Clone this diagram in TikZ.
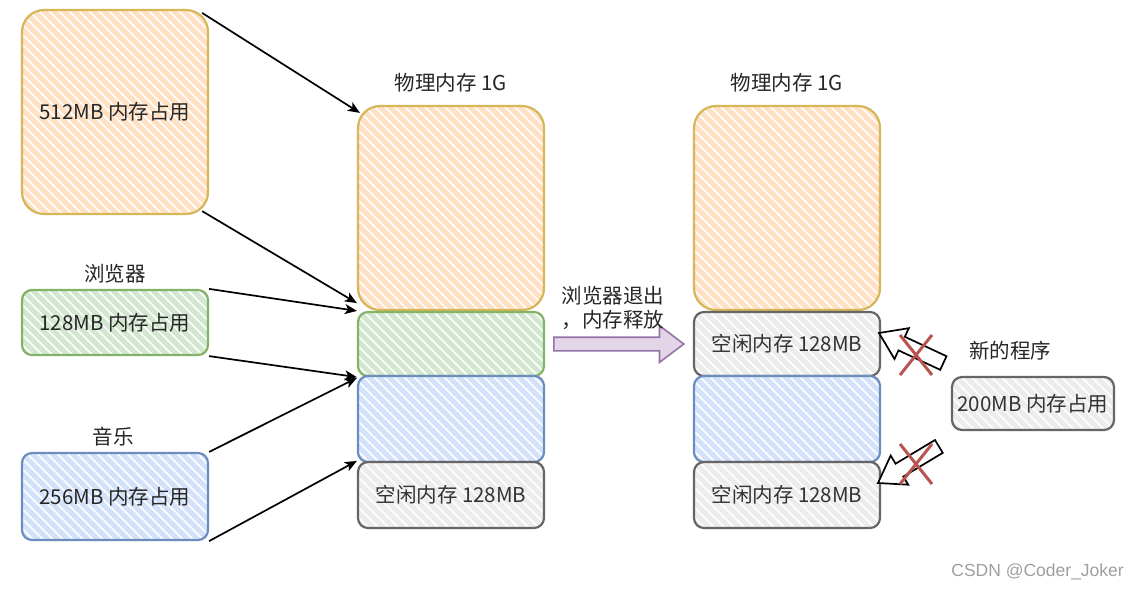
\documentclass[tikz,border=0pt]{standalone}
\usepackage{fontspec}
\setmainfont{Noto Sans CJK SC}
\newfontfamily\wmfont{Liberation Sans}
\usetikzlibrary{calc,arrows.meta,shapes.arrows}
\definecolor{orS}{HTML}{D6B656}\definecolor{orF}{HTML}{FFE0C2}
\definecolor{grS}{HTML}{82B366}\definecolor{grF}{HTML}{D2E6D0}
\definecolor{blS}{HTML}{6C8EBF}\definecolor{blF}{HTML}{D3E2FA}
\definecolor{gyS}{HTML}{666666}\definecolor{gyF}{HTML}{ECECEC}
\definecolor{puS}{HTML}{9673A6}\definecolor{puF}{HTML}{E1D5E7}
\definecolor{xred}{HTML}{B85450}
\tikzset{
  memfont/.style={font=\fontsize{20.5}{24}\selectfont, text=black!85},
  membox/.style 2 args={draw=#1, line width=2.2pt, rounded corners=10pt, inner sep=0pt, memfont,
    path picture={\foreach \k in {-500,-490,...,500}{\draw[#2, line width=5pt] ($(path picture bounding box.center)+(\k,0)$) ++(-300,-300) -- ++(600,600);}}},
  big/.style={minimum width=186pt, minimum height=204pt, rounded corners=22pt},
  lbl/.style={memfont, inner sep=0pt},
  conn/.style={draw=black, line width=1.7pt, -{Stealth[length=12pt,width=10pt,inset=3pt]}},
  hollow/.style={draw=black, line width=1.7pt, fill=white, line join=miter},
  xmark/.style={draw=xred, line width=3pt},
}
\begin{document}
\begin{tikzpicture}[x=1pt,y=-1pt]
\useasboundingbox[fill=white] (0,0) rectangle (1142,590);
% left column
\node[membox={orS}{orF}, big] (L1) at (115,112) {512MB 内存占用};
\node[membox={grS}{grF}, minimum width=186pt, minimum height=65pt] (L2) at (115,322.5) {128MB 内存占用};
\node[membox={blS}{blF}, minimum width=186pt, minimum height=87pt] (L3) at (115,496.5) {256MB 内存占用};
\node[lbl] (t2) at (115,274) {浏览器};
\node[lbl] (t3) at (113,437) {音乐};
% middle column
\node[lbl] (tm) at (451,83) {物理内存 1G};
\node[membox={orS}{orF}, big] (M1) at (451,208) {};
\node[membox={grS}{grF}, minimum width=186pt, minimum height=64pt] (M2) at (451,344) {};
\node[membox={blS}{blF}, minimum width=186pt, minimum height=86pt] (M3) at (451,419) {};
\node[membox={gyS}{gyF}, minimum width=186pt, minimum height=66pt, text=black!80] (M4) at (451,495) {空闲内存 128MB};
% right column
\node[lbl] (tr) at (787,83) {物理内存 1G};
\node[membox={orS}{orF}, big] (R1) at (787,208) {};
\node[membox={gyS}{gyF}, minimum width=186pt, minimum height=64pt, text=black!80] (R2) at (787,344) {空闲内存 128MB};
\node[membox={blS}{blF}, minimum width=186pt, minimum height=86pt] (R3) at (787,419) {};
\node[membox={gyS}{gyF}, minimum width=186pt, minimum height=66pt, text=black!80] (R4) at (787,495) {空闲内存 128MB};
% new program
\node[lbl] (tn) at (1010,351) {新的程序};
\node[membox={gyS}{gyF}, minimum width=162pt, minimum height=53pt, text=black!80] (N) at (1033,403.5) {200MB 内存占用};
% connectors
\draw[conn] ($(L1.north east)+(-7,4)$) -- ($(M1.north west)+(3,8)$);
\draw[conn] ($(L1.south east)+(-7,-4)$) -- ($(M1.south west)+(0,-8)$);
\draw[conn] (L2.north east) -- (M2.north west);
\draw[conn] (L2.south east) -- (M2.south west);
\draw[conn] (L3.north east) -- ($(M3.north west)+(0,3)$);
\draw[conn] (L3.south east) -- (M4.north west);
% big arrow
\node[single arrow, draw=puS, fill=puF, line width=1.6pt, anchor=tail, minimum height=130pt,
  inner sep=6pt, single arrow head extend=11.5pt, single arrow tip angle=74] (ba) at (553,344) {};
\node[memfont, align=left, inner sep=0pt] (bal) at (613,308) {浏览器退出\\，内存释放};
% hollow arrows (tip at the coordinate, pointing back to the free memory)
\coordinate (p1) at (879,333);
\coordinate (p2) at (878,483);
\begin{scope}[shift={(p1)}, rotate=-25]
  \path[hollow] (0,0) -- (25,-17) -- (25,-7.5) -- (71,-7.5) -- (71,7.5) -- (25,7.5) -- (25,17) -- cycle;
\end{scope}
\begin{scope}[shift={(p2)}, rotate=31]
  \path[hollow] (0,0) -- (25,-17) -- (25,-7.5) -- (71,-7.5) -- (71,7.5) -- (25,7.5) -- (25,17) -- cycle;
\end{scope}
% red crosses
\coordinate (x1) at (916,355);
\coordinate (x2) at (916,464);
\draw[xmark] ($(x1)+(-16,-20)$) -- ($(x1)+(16,20)$);
\draw[xmark] ($(x1)+(16,-20)$) -- ($(x1)+(-16,20)$);
\draw[xmark] ($(x2)+(-16,-20)$) -- ($(x2)+(16,20)$);
\draw[xmark] ($(x2)+(16,-20)$) -- ($(x2)+(-16,20)$);
% watermark
\node[font=\wmfont\fontsize{17.5}{20}\selectfont, text=gray!75, anchor=east, inner sep=0pt] (wm) at (1124,572) {CSDN @Coder\_Joker};
\end{tikzpicture}
\end{document}
